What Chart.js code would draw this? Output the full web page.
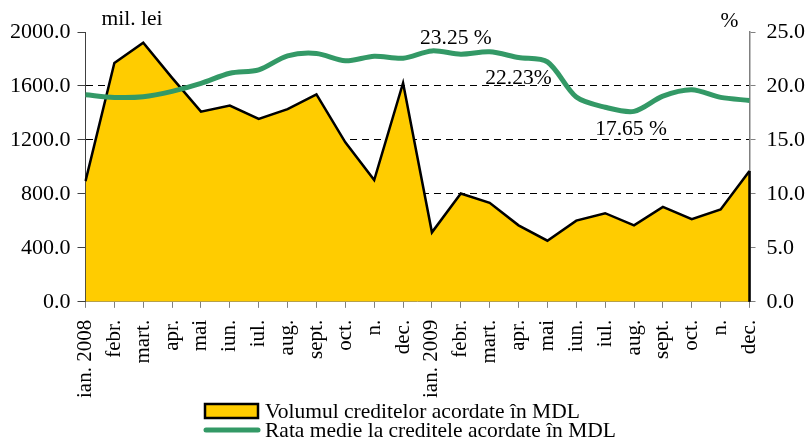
<!DOCTYPE html>
<html>
<head>
<meta charset="utf-8">
<script src="https://cdn.jsdelivr.net/npm/chart.js@4"></script>
<style>
  html, body { margin: 0; padding: 0; background: #ffffff; }
  #wrap { width: 806px; height: 439px; }
</style>
</head>
<body>
<div id="wrap"><canvas id="c" width="806" height="439"></canvas></div>
<script>
const months = ['ian. 2008','febr.','mart.','apr.','mai','iun.','iul.','aug.','sept.','oct.','n.','dec.',
                'ian. 2009','febr.','mart.','apr.','mai','iun.','iul.','aug.','sept.','oct.','n.','dec.'];
const volume = [895,1770,1920,1660,1410,1455,1356,1428,1537,1182,903,1622,
                515,803,734,567,453,602,657,567,704,612,684,970];
const rate = [19.19,18.94,19.0,19.5,20.24,21.18,21.49,22.79,23.01,22.33,22.76,22.57,
              23.25,22.95,23.16,22.64,22.23,18.97,18.03,17.65,19.06,19.65,18.94,18.66];
const volumeLabel = 'Volumul creditelor acordate în MDL';
const rateLabel = 'Rata medie la creditele acordate în MDL';
const leftTitle = 'mil. lei';
const rightTitle = '%';
const noteLabels = ['23.25 %', '22.23%', '17.65 %'];
const noteIndex = [12, 16, 19];

const FONT = "'Liberation Serif', 'Times New Roman', serif";
Chart.defaults.font.family = FONT;
Chart.defaults.font.size = 22;
Chart.defaults.color = '#000';

const extras = {
  id: 'extras',
  afterDatasetsDraw(chart) {
    const ctx = chart.ctx;
    const meta = chart.getDatasetMeta(1);
    const last = meta.data[meta.data.length - 1];
    const y = chart.scales.y;
    ctx.save();
    ctx.strokeStyle = '#000';
    ctx.lineWidth = 2.5;
    ctx.beginPath();
    ctx.moveTo(last.x, last.y);
    ctx.lineTo(last.x, y.getPixelForValue(0));
    ctx.stroke();
    ctx.restore();
  },
  afterDraw(chart) {
    const ctx = chart.ctx;
    const xs = chart.scales.x, y1 = chart.scales.y1, area = chart.chartArea;
    ctx.save();
    ctx.fillStyle = '#000';
    ctx.font = '21.5px ' + FONT;
    ctx.textBaseline = 'alphabetic';
    // axis titles
    ctx.textAlign = 'left';
    ctx.fillText(leftTitle, area.left + 16, area.top - 7);
    ctx.textAlign = 'right';
    ctx.fillText(rightTitle, area.right - 11, area.top - 5);
    // notes
    const offs = [[24, -13], [-29, 16], [-3, 18]];
    ctx.textAlign = 'center';
    ctx.textBaseline = 'middle';
    noteLabels.forEach((t, i) => {
      const idx = noteIndex[i];
      const px = xs.getPixelForValue(idx);
      const py = y1.getPixelForValue(rate[idx]);
      ctx.fillText(t, px + offs[i][0], py + offs[i][1]);
    });
    // legend
    const lx = 205, ly1 = 411, ly2 = 430;
    const ds0 = chart.data.datasets[1], ds1 = chart.data.datasets[0];
    ctx.fillStyle = ds0.backgroundColor;
    ctx.fillRect(lx, ly1 - 7, 53, 14);
    ctx.strokeStyle = '#000';
    ctx.lineWidth = 2.5;
    ctx.strokeRect(lx, ly1 - 7, 53, 14);
    ctx.strokeStyle = ds1.borderColor;
    ctx.lineWidth = 5;
    ctx.lineCap = 'round';
    ctx.beginPath();
    ctx.moveTo(lx + 1, ly2);
    ctx.lineTo(lx + 53, ly2);
    ctx.stroke();
    ctx.fillStyle = '#000';
    ctx.textAlign = 'left';
    ctx.textBaseline = 'middle';
    ctx.fillText(ds0.label, lx + 60, ly1 + 1);
    ctx.fillText(ds1.label, lx + 60, ly2 + 1);
    ctx.restore();
  }
};

new Chart(document.getElementById('c'), {
  data: {
    labels: months,
    datasets: [
      { type: 'line', label: rateLabel, data: rate, yAxisID: 'y1',
        borderColor: '#339966', borderWidth: 5, pointRadius: 0, tension: 0.3,
        fill: false, order: 0 },
      { type: 'line', label: volumeLabel, data: volume, yAxisID: 'y',
        borderColor: '#000', borderWidth: 2.5, backgroundColor: '#FFCC00',
        pointRadius: 0, tension: 0, fill: 'origin', order: 1 }
    ]
  },
  options: {
    responsive: false,
    animation: false,
    devicePixelRatio: 1,
    layout: { padding: { left: 3, right: -10, top: 32, bottom: 29 } },
    plugins: { legend: { display: false }, tooltip: { enabled: false } },
    scales: {
      x: {
        offset: false,
        grid: { drawOnChartArea: false, drawTicks: true, tickLength: 6, color: '#808080' },
        border: { color: '#808080', width: 1 },
        ticks: { autoSkip: false, maxRotation: 90, minRotation: 90, padding: 12, color: '#000',
                 font: { size: 21 } }
      },
      y: {
        position: 'left', min: 0, max: 2000,
        ticks: { stepSize: 400, padding: 7, color: '#000', callback: v => Number(v).toFixed(1) },
        grid: {
          color: c => (c.tick && (c.tick.value === 0 || c.tick.value === 2000)) ? 'rgba(0,0,0,0)' : '#000',
          tickColor: '#404040', tickLength: 8, lineWidth: 1
        },
        border: { color: '#404040', width: 1, dash: [7, 5] }
      },
      y1: {
        position: 'right', min: 0, max: 25,
        ticks: { stepSize: 5, padding: 11, color: '#000', callback: v => Number(v).toFixed(1) },
        grid: { drawOnChartArea: false, tickColor: '#808080', tickLength: 6 },
        border: { color: '#808080', width: 1.5 }
      }
    }
  },
  plugins: [extras]
});
</script>
</body>
</html>
